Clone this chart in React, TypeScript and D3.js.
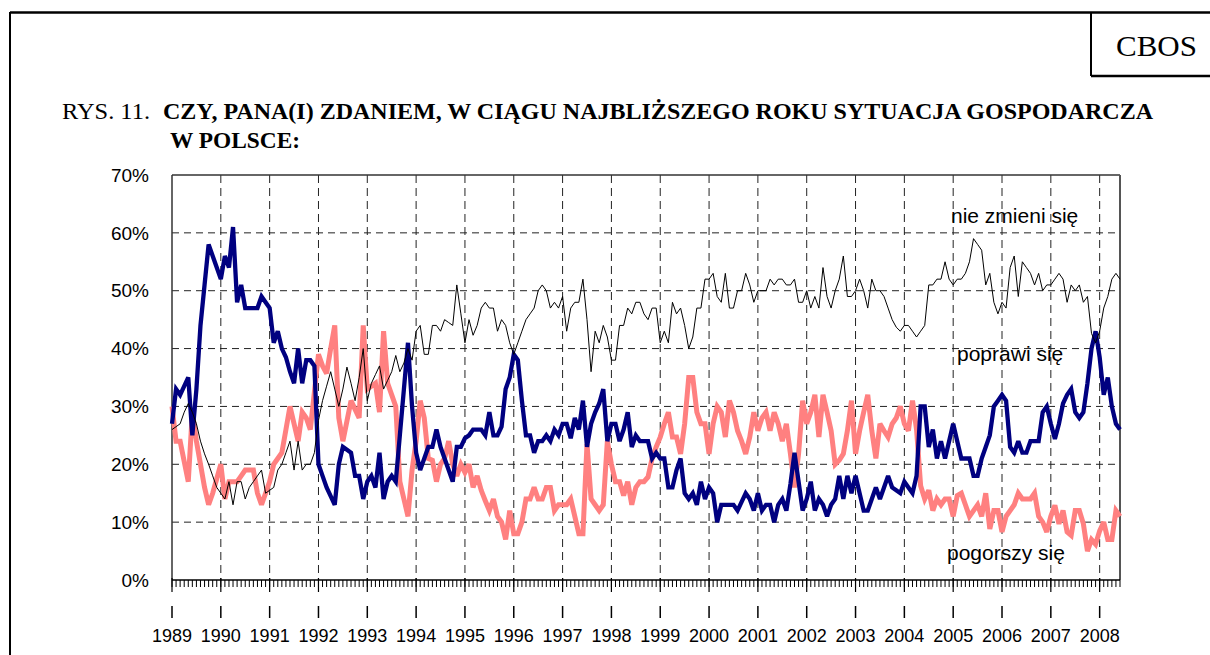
import React from 'react';
import * as d3 from 'd3';

const years = [1989, 1990, 1991, 1992, 1993, 1994, 1995, 1996, 1997, 1998, 1999, 2000, 2001, 2002, 2003, 2004, 2005, 2006, 2007, 2008];
const yTicks = [0, 10, 20, 30, 40, 50, 60, 70];

// monthly values, Jan 1989 – Jun 2008
const poprawi = [
  27, 33, 32, 33.5, 35, 25, 33, 44, 51, 58, 56, 54,
  52, 56, 54, 61, 48, 51, 47, 47, 47, 47, 49, 48,
  47, 41, 43, 40, 38.5, 36, 34, 40, 34, 38, 38, 37,
  20, 18, 16, 14.5, 13, 20, 23, 22.5, 22, 18, 18, 14,
  17, 18, 16, 22, 14, 17, 18, 17, 25, 33, 41, 30,
  22, 19, 21, 23, 23, 26, 23, 21, 19, 17, 23, 23,
  24.5, 25, 26, 26, 26, 25, 29, 25, 25, 26.5, 33, 35,
  39, 38, 31, 25, 25, 22, 24, 24, 25, 24, 26, 25,
  27, 27, 24.5, 28, 26, 31, 23, 27, 29, 30.5, 33, 24,
  27, 27, 24, 26, 29, 23, 25, 24, 24, 24, 21, 22,
  21, 21, 16, 16, 19, 21, 15, 14, 15, 13, 17, 14,
  16, 15, 10, 13, 13, 13, 13, 12, 13.5, 15, 14, 12,
  15, 12, 13, 13, 10, 13, 14, 12, 16.6, 22, 17, 12,
  14, 17, 12, 14, 13, 11, 13, 14, 18, 14, 18, 15,
  18, 15, 12, 12, 14, 16, 14, 16, 18, 16, 15.5, 15,
  17, 16, 15, 18, 30, 30, 23, 26, 21, 24, 21, 24,
  27, 24, 21, 21, 21, 18, 18, 21, 23, 25, 30, 31,
  32, 31, 23, 22, 24, 22, 22, 24, 24, 24, 29, 30,
  27, 24.4, 27, 30.5, 32, 33, 29, 28, 29, 34, 40, 43,
  38.5, 32, 35, 30, 27, 26,
];

const nieZmieni = [
  26, 26.5, 27, 29, 30.5, 29, 27, 24, 21.8, 20, 18, 16,
  15, 14, 17, 13, 17, 17, 14, 16, 17, 18, 19, 15,
  15.5, 16, 19, 20, 22, 24, 19, 24, 19, 20, 20, 22,
  27.6, 31, 33.5, 36, 33, 30, 33, 36.8, 34, 31, 35, 40,
  31, 34, 35.5, 37, 33, 34.5, 36, 38.8, 36, 37.5, 40, 38,
  43, 44, 39, 39, 44, 44, 43, 45, 44.5, 44, 51, 46,
  41, 45, 42.3, 44, 47, 48, 47, 47, 43, 45, 44, 41,
  39, 41, 43, 45, 46, 47, 50, 51, 50, 47, 48, 47,
  49, 43, 47, 48, 48, 52, 45, 36, 43, 41, 44, 42,
  38, 38, 44, 44, 47, 46, 48, 48, 46, 45, 47, 47,
  41, 43, 41, 48, 46, 47, 44, 40, 42, 47, 47, 52,
  52, 53, 49, 48, 53, 47, 47, 50, 50, 53, 51, 48,
  50, 50, 50, 52, 51, 52, 52, 51, 51, 52, 48, 48,
  50, 47, 49, 47, 54, 49, 47, 50, 52, 56, 49, 49,
  50, 52, 50, 47, 52, 50, 50, 49, 47, 45, 43.7, 43,
  44, 44, 43, 42, 43, 44, 51, 51, 52, 52, 55, 52,
  51, 52, 52, 53, 55, 59, 58, 57, 51, 53, 48, 46,
  48, 47, 54, 56, 49, 55, 54, 53, 51, 53, 50, 51,
  51, 52, 53, 52, 48, 51, 50, 51, 48, 49, 42.6, 41,
  43, 47, 49, 52, 53, 52,
];

const pogorszy = [
  30, 24, 24, 20.5, 17, 29, 24, 20, 16, 13, 15, 17.5,
  20, 14, 17, 17, 17, 18, 19, 19, 19, 15, 13, 15,
  17, 20, 21, 22, 26, 30, 27, 24, 29, 28, 26, 32.5,
  39, 37, 35.7, 40, 44, 28, 24, 27.5, 31, 29.5, 28, 44,
  33, 33.5, 34, 29, 43, 34, 32, 30, 17, 14, 11, 19,
  24, 31, 28, 21, 20.7, 17, 20, 21, 24, 20, 18, 20,
  18.6, 20, 16, 18, 15.5, 13.7, 12, 14, 11, 10, 7, 12,
  8, 8, 10, 14, 14, 16, 14, 14, 16, 16, 12, 13,
  13, 13, 14, 11, 8, 8, 23.5, 14, 13, 12, 13, 24,
  20, 17, 17, 14.6, 17, 13, 16, 17, 17, 17.8, 21, 23,
  24.7, 27, 29, 24.7, 24.7, 21.8, 27, 35, 35, 29, 27, 27,
  21.8, 27, 30, 29, 24.7, 31, 29, 25.8, 24, 21.8, 24.7, 29,
  25.8, 28, 29, 25.8, 29, 27, 24, 27, 21.8, 16, 21.8, 31,
  27, 29, 32, 24.7, 32, 29, 25.8, 20, 20.7, 21.8, 25.8, 31,
  21.8, 25.8, 29, 32, 25.8, 21, 27, 25.8, 24.7, 27, 28, 30,
  27, 25.8, 31, 26, 16.3, 14, 15.5, 12, 14, 13, 14, 14,
  11, 14.6, 15, 13, 11, 12, 13, 11, 15, 8.8, 12, 12,
  8.3, 11, 12, 13, 15, 14, 14, 14, 15, 11, 10, 8.3,
  11, 12.9, 9.7, 12, 8.3, 7.7, 12, 12, 9.7, 5, 7, 6.2,
  8.5, 10, 7, 7, 12, 11,
];

const seriesLabels = ['nie zmieni się', 'poprawi się', 'pogorszy się'];

export default function App() {
  const W = 1210;
  const H = 655;
  const left = 172, right = 1120, top = 175, bottom = 580;
  const n = poprawi.length;
  const x = d3.scaleLinear().domain([0, n - 1]).range([left, right]);
  const y = d3.scaleLinear().domain([0, 70]).range([bottom, top]);
  const lineGen = d3.line<number>().x((_, i) => x(i)).y((d) => y(d));
  const months = d3.range(n);
  const sans = 'Liberation Sans, Arial, sans-serif';
  const serif = 'Liberation Serif, Times New Roman, serif';
  const yearIdx = (yr: number) => (yr - years[0]) * 12;

  return (
    <svg width={W} height={H} style={{ position: 'absolute', left: 0, top: 0, background: '#fff' }}>
      <rect x={0} y={0} width={W} height={H} fill="#fff" />
      {/* outer frame */}
      <line x1={10} y1={12.5} x2={W} y2={12.5} stroke="#000" strokeWidth={2.5} />
      <line x1={10} y1={12} x2={10} y2={H} stroke="#000" strokeWidth={2} />
      <line x1={1091} y1={12} x2={1091} y2={76} stroke="#000" strokeWidth={2} />
      <line x1={1091} y1={76} x2={W} y2={76} stroke="#000" strokeWidth={2.5} />
      <text x={1116} y={56} fontFamily={serif} fontSize={30} textLength={81} lengthAdjust="spacingAndGlyphs">CBOS</text>

      {/* title */}
      <text x={62} y={119} fontFamily={serif} fontSize={23} textLength={88} lengthAdjust="spacingAndGlyphs">RYS. 11.</text>
      <text x={163} y={119} fontFamily={serif} fontSize={23} fontWeight="bold" textLength={990} lengthAdjust="spacingAndGlyphs">
        CZY, PANA(I) ZDANIEM, W CIĄGU NAJBLIŻSZEGO ROKU SYTUACJA GOSPODARCZA
      </text>
      <text x={170} y={148} fontFamily={serif} fontSize={23} fontWeight="bold" textLength={130} lengthAdjust="spacingAndGlyphs">W POLSCE:</text>

      {/* gridlines */}
      {yTicks.filter((t) => t > 0 && t < 70).map((t) => (
        <line key={'h' + t} x1={left} x2={right} y1={y(t)} y2={y(t)} stroke="#222" strokeWidth={1} strokeDasharray="7,5" />
      ))}
      {years.slice(1).map((yr) => (
        <line key={'v' + yr} x1={x(yearIdx(yr))} x2={x(yearIdx(yr))} y1={top} y2={bottom} stroke="#222" strokeWidth={1} strokeDasharray="8,5" />
      ))}

      {/* plot border */}
      <line x1={left} x2={right} y1={top} y2={top} stroke="#333" strokeWidth={1.5} />
      <line x1={left} x2={left} y1={top} y2={bottom} stroke="#333" strokeWidth={1.5} />
      <line x1={right} x2={right} y1={top} y2={bottom} stroke="#555" strokeWidth={2} />

      {/* y labels */}
      {yTicks.map((t) => (
        <text key={'yl' + t} x={149} y={y(t)} dy="0.35em" textAnchor="end" fontFamily={sans} fontSize={19}>{t}%</text>
      ))}

      {/* series */}
      <path d={lineGen(pogorszy) || ''} fill="none" stroke="#FF8080" strokeWidth={5} strokeLinejoin="miter" strokeMiterlimit={3} />
      <path d={lineGen(poprawi) || ''} fill="none" stroke="#000080" strokeWidth={4.3} strokeLinejoin="miter" strokeMiterlimit={3} />
      <path d={lineGen(nieZmieni) || ''} fill="none" stroke="#000" strokeWidth={1} />

      {/* x axis */}
      <line x1={left} x2={right} y1={bottom} y2={bottom} stroke="#000" strokeWidth={1.5} />
      {months.map((m) => (
        <line key={'mt' + m} x1={x(m)} x2={x(m)} y1={bottom} y2={bottom + 7} stroke="#000" strokeWidth={1} />
      ))}
      {years.map((yr) => (
        <g key={'yt' + yr}>
          <line x1={x(yearIdx(yr))} x2={x(yearIdx(yr))} y1={bottom - 2} y2={bottom + 12} stroke="#000" strokeWidth={1.2} />
          <line x1={x(yearIdx(yr))} x2={x(yearIdx(yr))} y1={606} y2={618} stroke="#000" strokeWidth={1.5} />
          <text x={x(yearIdx(yr))} y={642} textAnchor="middle" fontFamily={sans} fontSize={18}>{yr}</text>
        </g>
      ))}

      {/* series labels */}
      <text x={951} y={223} fontFamily={sans} fontSize={21}>{seriesLabels[0]}</text>
      <text x={957} y={361} fontFamily={sans} fontSize={21}>{seriesLabels[1]}</text>
      <text x={947} y={560} fontFamily={sans} fontSize={21}>{seriesLabels[2]}</text>
    </svg>
  );
}
